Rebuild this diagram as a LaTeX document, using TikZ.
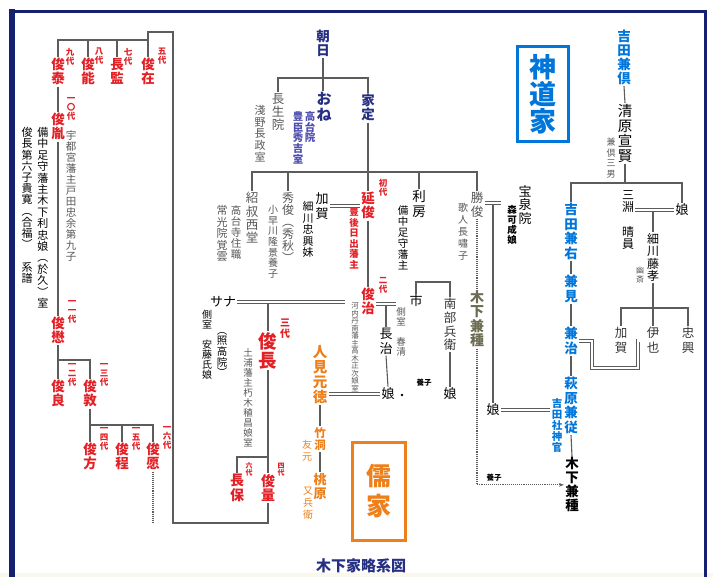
\documentclass[tikz,border=0pt]{standalone}
\usepackage{fontspec}
\setmainfont{Noto Sans CJK JP}
\usetikzlibrary{arrows.meta}
\definecolor{hred}{RGB}{226,32,38}
\definecolor{navyname}{RGB}{38,48,130}
\definecolor{lnavy}{RGB}{80,80,175}
\definecolor{shblue}{RGB}{0,118,218}
\definecolor{juorange}{RGB}{238,128,28}
\definecolor{grtext}{RGB}{88,88,88}
\definecolor{olivetx}{RGB}{108,108,82}
\definecolor{linegray}{RGB}{92,92,92}
\definecolor{framenavy}{RGB}{22,32,112}
\definecolor{paper}{RGB}{250,248,236}
% vertical text: one character per line
\def\vtxend{}
\def\vtext#1{\vbox{\lineskiplimit=-\maxdimen\expandafter\vtxloop#1\vtxend}}
\def\vtxloop#1{\ifx#1\vtxend\else\hbox to 1em{\hss#1\hss}\expandafter\vtxloop\fi}
\tikzset{
  base/.style   = {inner sep=1.2pt, anchor=north},
  rname/.style  = {base, text=hred, font=\bfseries\fontsize{13.5}{14}\selectfont},
  gen/.style    = {base, inner sep=0pt, text=hred, font=\bfseries\fontsize{8.5}{9}\selectfont},
  rnote/.style  = {base, text=hred, font=\bfseries\fontsize{9.5}{10.5}\selectfont},
  nname/.style  = {base, text=navyname, font=\bfseries\fontsize{13.5}{14}\selectfont},
  bname/.style  = {base, text=shblue, font=\bfseries\fontsize{13.5}{14.5}\selectfont},
  oname/.style  = {base, text=juorange, font=\bfseries\fontsize{13}{14.5}\selectfont},
  gname/.style  = {base, text=grtext, font=\fontsize{12.5}{13.3}\selectfont},
  kname/.style  = {base, text=black, font=\fontsize{13}{14}\selectfont},
  gnote/.style  = {base, text=grtext, font=\fontsize{10.5}{11}\selectfont},
  knote/.style  = {base, text=black, font=\fontsize{10.5}{11}\selectfont},
  single/.style = {inner sep=1.2pt, anchor=center, font=\fontsize{13}{14}\selectfont},
  tinyk/.style  = {inner sep=0pt, font=\bfseries\fontsize{7.5}{8}\selectfont},
  conn/.style   = {draw=linegray, line width=1.1pt},
  wed/.style    = {draw=linegray, double=white, double distance=2.2pt, line width=0.8pt},
  adopt/.style  = {draw=linegray, densely dotted, line width=1.1pt},
  house/.style  = {draw, line width=3pt, anchor=center, inner sep=0pt},
}
\begin{document}
\begin{tikzpicture}[x=1pt,y=-1pt]
  \useasboundingbox (0,0) rectangle (713,577);
  \fill[white] (0,0) rectangle (713,577);
  \fill[paper] (0,573) rectangle (713,577);
  \draw[framenavy, line width=6pt] (11.5,9.5) -- (11.5,577);
  \draw[framenavy, line width=3pt] (9,11.5) -- (705,11.5) -- (705,577);

  % Hiji line, left
  \node[rname] (toshiari)   at (148,57) {\vtext{俊在}};
  \node[rname] (nagaaki)    at (117,57) {\vtext{長監}};
  \node[rname] (toshiyoshi) at (88,57)  {\vtext{俊能}};
  \node[rname] (toshiyasu)  at (58,57)  {\vtext{俊泰}};
  \foreach \x/\g in {70/九代,99/八代,128/七代,162/五代}
    \node[gen] (g\x) at (\x,48) {\vtext{\g}};
  \node[rname] (toshitane) at (58,112) {\vtext{俊胤}};
  \node[gen] (g10) at (71,97) {\vtext{一〇代}};
  \node[gnote] (toda) at (71,129) {\vtext{宇都宮藩主戸田忠余第九子}};
  \node[knote, font=\fontsize{11}{11.4}\selectfont] (okyu)  at (43,126) {\vtext{備中足守藩主木下利忠娘︵於久︶室}};
  \node[knote, font=\fontsize{11}{11.2}\selectfont] (keifu) at (27,126) {\vtext{俊長第六子貴寛︵合福︶~系譜}};
  \node[rname] (toshishige) at (58,316) {\vtext{俊懋}};
  \node[gen] (g11) at (72,300) {\vtext{一一代}};
  \node[rname] (toshiyoshi2) at (58,379) {\vtext{俊良}};
  \node[rname] (toshiatsu)   at (90,379) {\vtext{俊敦}};
  \node[gen] (g12) at (72,363)  {\vtext{一二代}};
  \node[gen] (g13) at (104,363) {\vtext{一三代}};
  \node[rname] (toshimichi) at (90,442)  {\vtext{俊方}};
  \node[rname] (toshinori)  at (122,442) {\vtext{俊程}};
  \node[rname] (toshimasa)  at (153,442) {\vtext{俊愿}};
  \node[gen] (g14) at (104,427) {\vtext{一四代}};
  \node[gen] (g15) at (136,427) {\vtext{一五代}};
  \node[gen] (g16) at (167,426) {\vtext{一六代}};

  \coordinate (b40) at (0,40);
  \coordinate (b360) at (0,360);
  \coordinate (b425) at (0,425);
  \coordinate (lp) at (173,32);
  \coordinate (lb) at (173,523);
  \coordinate (dotend) at (153,522);
  \draw[conn] (toshiyasu.north) -- (toshiyasu.north |- b40) -- (toshiari.north |- b40);
  \draw[conn] (toshiyoshi.north) -- (toshiyoshi.north |- b40);
  \draw[conn] (nagaaki.north) -- (nagaaki.north |- b40);
  \draw[conn] (toshiyasu.south) -- (toshitane.north);
  \draw[conn] (toshitane.south) -- (toshishige.north);
  \draw[conn] (toshishige.south) -- (toshishige.south |- b360) -| (toshiatsu.north);
  \draw[conn] (toshiyoshi2.north) -- (toshiyoshi2.north |- b360);
  \draw[conn] (toshiatsu.south) -- (toshiatsu.south |- b425) -| (toshimasa.north);
  \draw[conn] (toshimichi.north) -- (toshimichi.north |- b425);
  \draw[conn] (toshinori.north) -- (toshinori.north |- b425);
  \draw[adopt] (toshimasa.south) -- (dotend);

  % Asahi, One, Iesada
  \node[nname] (asahi) at (323,29) {\vtext{朝日}};
  \node[gname] (choseiin) at (278,92) {\vtext{長生院}};
  \node[gnote, font=\fontsize{11}{11.6}\selectfont] (asano) at (260,104) {\vtext{淺野長政室}};
  \node[nname, font=\bfseries\fontsize{15}{15.5}\selectfont] (one) at (324,91) {\vtext{おね}};
  \node[base, text=lnavy, font=\bfseries\fontsize{10.5}{10.8}\selectfont] (kodaiin)   at (310,110) {\vtext{高台院}};
  \node[base, text=lnavy, font=\bfseries\fontsize{10.5}{10.8}\selectfont] (hideyoshi) at (298,110) {\vtext{豊臣秀吉室}};
  \node[nname] (iesada) at (368,93) {\vtext{家定}};
  \coordinate (b78) at (0,78);
  \draw[conn] (asahi.south) -- (asahi.south |- one.north);
  \draw[conn] (choseiin.north) -- (choseiin.north |- b78) -- (iesada.north |- b78) -- (iesada.north);

  % children of Iesada
  \node[gname] (shoshuku) at (252,191) {\vtext{紹叔西堂}};
  \node[gnote, font=\fontsize{10.5}{11}\selectfont] (kodaiji) at (236,204) {\vtext{高台寺住職}};
  \node[gnote, font=\fontsize{11}{11.5}\selectfont] (jokoin)  at (222,204) {\vtext{常光院覚雲}};
  \node[gname, font=\fontsize{12}{12}\selectfont] (hidetoshi) at (288,191) {\vtext{秀俊︵秀秋︶}};
  \node[gnote, font=\fontsize{10}{10.6}\selectfont] (kobayakawa) at (273,204) {\vtext{小早川隆景養子}};
  \node[kname, font=\fontsize{13}{15}\selectfont] (kaga) at (322,191) {\vtext{加賀}};
  \node[knote, font=\fontsize{11}{11.5}\selectfont] (tadaokiimo) at (308,200) {\vtext{細川忠興妹}};
  \node[rname] (nobutoshi) at (368,191) {\vtext{延俊}};
  \node[gen] (g1) at (383,179) {\vtext{初代}};
  \node[rnote] (hiji) at (354,206) {\vtext{豊後日出藩主}};
  \node[kname, font=\fontsize{13.5}{15}\selectfont] (toshifusa) at (419,189) {\vtext{利房}};
  \node[knote] (ashimori) at (403,204) {\vtext{備中足守藩主}};
  \node[gname] (katsutoshi) at (477,191) {\vtext{勝俊}};
  \node[gnote, font=\fontsize{10}{12}\selectfont] (chosho) at (463,202) {\vtext{歌人長嘯子}};
  \node[kname, font=\fontsize{13}{13.5}\selectfont] (hosenin) at (525,184) {\vtext{宝泉院}};
  \node[knote, font=\bfseries\fontsize{9.5}{10}\selectfont] (mori) at (512,204) {\vtext{森可成娘}};
  \coordinate (b172) at (0,172);
  \coordinate (w1) at (501,203);
  \draw[conn] (iesada.south) -- (nobutoshi.north);
  \draw[conn] (shoshuku.north) |- (katsutoshi.north |- b172) -- (katsutoshi.north);
  \draw[conn] (hidetoshi.north) -- (hidetoshi.north |- b172);
  \draw[conn] (toshifusa.north) -- (toshifusa.north |- b172);
  \draw[wed] (kaga.east) -- (kaga.east -| nobutoshi.west);

  % Toshiharu, Toshinaga
  \node[rname] (toshiharu) at (368,287) {\vtext{俊治}};
  \node[gen] (g2) at (383,277) {\vtext{二代}};
  \node[gnote, font=\fontsize{7.5}{7.5}\selectfont] (takagi) at (355,301) {\vtext{河内丹南藩主高木正次娘室}};
  \node[gnote, font=\fontsize{9.5}{10}\selectfont] (shunsei) at (401,306) {\vtext{側室~春清}};
  \node[kname, font=\fontsize{13}{14.5}\selectfont] (nagaharu) at (386,327) {\vtext{長治}};
  \node[single] (sana) at (223,302) {サナ};
  \node[knote, font=\fontsize{10}{10}\selectfont] (ando) at (207,309) {\vtext{側室~安藤氏娘}};
  \node[knote, font=\fontsize{10.5}{10.6}\selectfont] (shokoin) at (222,331) {\vtext{︵照高院︶}};
  \node[rname, font=\bfseries\fontsize{18.5}{19}\selectfont] (toshinaga) at (268,331) {\vtext{俊長}};
  \node[gen, font=\bfseries\fontsize{10}{10.5}\selectfont] (g3) at (285,319) {\vtext{三代}};
  \node[gnote, font=\fontsize{9.5}{10}\selectfont] (kutsuki) at (248,347) {\vtext{土浦藩主朽木稙昌娘室}};
  \node[rname, font=\bfseries\fontsize{14}{14.5}\selectfont] (nagayasu)  at (237,473) {\vtext{長保}};
  \node[rname, font=\bfseries\fontsize{14}{14.5}\selectfont] (toshikazu) at (268,473) {\vtext{俊量}};
  \node[gen, font=\bfseries\fontsize{7}{7}\selectfont] (g6) at (249,462) {\vtext{六代}};
  \node[gen, font=\bfseries\fontsize{7}{7}\selectfont] (g4) at (281,463) {\vtext{四代}};
  \coordinate (sanaend) at (345,0);
  \coordinate (w2) at (396,304);
  \coordinate (b457) at (0,457);
  \draw[conn] (nobutoshi.south) -- (toshiharu.north);
  \draw[conn] (nagaharu.north) -- (nagaharu.north |- w2);
  \draw[wed] (toshiharu.east |- w2) -- (w2);
  \draw[conn] (toshinaga.north) -- (toshinaga.north |- sana.east);
  \draw[wed] (sana.east) -- (sana.east -| sanaend);
  \draw[conn] (toshinaga.south) -- (toshikazu.north);
  \draw[conn] (nagayasu.north) |- (toshinaga.south |- b457);
  \draw[conn] (toshikazu.south) |- (lb) -- (lp) -| (toshiari.north);

  % Nanbu, musume
  \node[single] (ichi) at (416,301) {市};
  \node[kname, font=\fontsize{12.5}{13.7}\selectfont, text=grtext!60!black] (nanbu) at (450,297) {\vtext{南部兵衛}};
  \node[single] (musume1) at (388,394) {娘};
  \node[circle, fill=black, inner sep=0pt, minimum size=2.6pt] (dot1) at (402,395) {};
  \node[tinyk] (yoshi1) at (424,383) {養子};
  \node[single] (musume2) at (450,394) {娘};
  \coordinate (b282) at (0,282);
  \draw[conn] (ichi.north) |- (nanbu.north |- b282) -- (nanbu.north);
  \draw[conn] (nanbu.south) -- (musume2.north);
  \draw[conn] (nagaharu.south) -- (musume1.north);

  % Juka
  \node[oname, font=\bfseries\fontsize{14.5}{15}\selectfont] (gentoku) at (320,344) {\vtext{人見元徳}};
  \node[oname, font=\bfseries\fontsize{11.5}{12}\selectfont] (chikudo) at (320,426) {\vtext{竹洞}};
  \node[oname, font=\bfseries\fontsize{13}{13.5}\selectfont] (togen) at (320,472) {\vtext{桃原}};
  \node[base, text=juorange, font=\fontsize{10}{12}\selectfont] (yugen)  at (307,439) {\vtext{友元}};
  \node[base, text=juorange, font=\fontsize{10}{12}\selectfont] (matabe) at (308,486) {\vtext{又兵衛}};
  \draw[conn] (gentoku.south) -- (chikudo.north);
  \draw[conn] (chikudo.south) -- (togen.north);
  \draw[wed] (gentoku.east |- musume1) -- (musume1.west);
  \node[house, draw=juorange, text=juorange, minimum width=53pt, minimum height=97pt,
        font=\bfseries\fontsize{25}{30}\selectfont] (juke) at (378.5,491.5) {\vtext{儒家}};

  % Katsutoshi line
  \node[base, text=olivetx, font=\bfseries\fontsize{14}{14.5}\selectfont] (kanetane) at (477,289) {\vtext{木下兼種}};
  \node[single] (musume3) at (493,410) {娘};
  \node[tinyk] (yoshi2) at (494,478) {養子};
  \draw[adopt] (katsutoshi.south) -- (kanetane.north);
  \draw[conn] (musume3.north) -- (musume3.north |- w1);
  \draw[wed] (katsutoshi.east |- w1) -- (w1);

  % Shinto line, right
  \node[house, draw=shblue, text=shblue, minimum width=51pt, minimum height=95pt,
        font=\bfseries\fontsize{27}{27}\selectfont] (shintoke) at (542.5,94.5) {\vtext{神道家}};
  \node[bname, font=\bfseries\fontsize{13.5}{13.8}\selectfont] (kanetomo) at (624,29) {\vtext{吉田兼倶}};
  \node[kname, font=\fontsize{14.5}{15}\selectfont] (nobukata) at (625,103) {\vtext{清原宣賢}};
  \node[gnote, font=\fontsize{9}{10.5}\selectfont] (sannan) at (611,137) {\vtext{兼倶三男}};
  \node[bname] (kanemigi) at (571,202) {\vtext{吉田兼右}};
  \node[kname, font=\fontsize{12}{12.4}\selectfont] (harukazu) at (628,189) {\vtext{三淵~晴員}};
  \node[single] (musume4) at (682,210) {娘};
  \node[kname, font=\fontsize{12}{12.5}\selectfont] (fujitaka) at (653,232) {\vtext{細川藤孝}};
  \node[gnote, font=\fontsize{8}{8.5}\selectfont] (yusai) at (640,266) {\vtext{幽斎}};
  \node[kname, font=\fontsize{12.5}{15}\selectfont, text=grtext!60!black] (kaga2)   at (621,326) {\vtext{加賀}};
  \node[kname, font=\fontsize{12.5}{15}\selectfont, text=grtext!60!black] (iya)     at (653,326) {\vtext{伊也}};
  \node[kname, font=\fontsize{12.5}{15}\selectfont, text=grtext!60!black] (tadaoki) at (688,326) {\vtext{忠興}};
  \node[bname] (kanemi)   at (571,274) {\vtext{兼見}};
  \node[bname] (kaneharu) at (571,326) {\vtext{兼治}};
  \node[bname] (hagiwara) at (571,376) {\vtext{萩原兼従}};
  \node[bname, font=\bfseries\fontsize{10.5}{11}\selectfont] (shinkan) at (557,397) {\vtext{吉田社神官}};
  \node[kname, font=\bfseries\fontsize{13.5}{14}\selectfont] (kanetane2) at (572,456) {\vtext{木下兼種}};
  \coordinate (b183) at (0,183);
  \coordinate (b308) at (0,308);
  \coordinate (u1) at (592,368);
  \coordinate (u2) at (638,368);
  \draw[conn] (kanetomo.south) -- (nobukata.north);
  \draw[conn] (nobukata.south) -- (nobukata.south |- b183);
  \draw[conn] (kanemigi.north) |- (musume4.north |- b183) -- (musume4.north);
  \draw[conn] (fujitaka.north) -- (fujitaka.north |- musume4);
  \draw[wed] (harukazu.east |- musume4) -- (musume4.west);
  \draw[conn] (fujitaka.south) -- (iya.north);
  \draw[conn] (kaga2.north) |- (tadaoki.north |- b308) -- (tadaoki.north);
  \draw[conn] (kanemigi.south) -- (kanemi.north);
  \draw[conn] (kanemi.south) -- (kaneharu.north);
  \draw[conn] (kaneharu.south) -- (hagiwara.north);
  \draw[conn] (hagiwara.south) -- (kanetane2.north);
  \draw[wed] (kaneharu.east) -| (u1) -- (u2) |- (iya.west);
  \draw[wed] (musume3.east) -- (musume3.east -| shinkan.west);
  \draw[adopt, -{Stealth[length=5pt]}] (kanetane.south) |- (kanetane2.west);

  \node[text=navyname, font=\bfseries\fontsize{15}{16}\selectfont] (title) at (361,566) {木下家略系図};
\end{tikzpicture}
\end{document}
